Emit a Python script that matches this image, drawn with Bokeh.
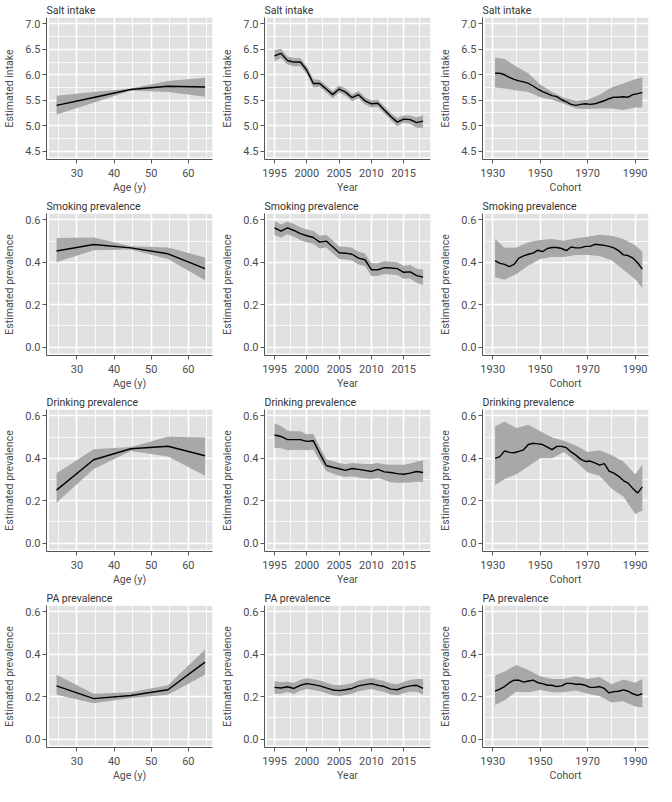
from bokeh.plotting import figure
from bokeh.layouts import gridplot
from bokeh.models import FixedTicker, BoxAnnotation, Range1d, NumeralTickFormatter
from bokeh.embed import file_html
from bokeh.resources import INLINE

# ---------------- data ----------------
age = [24.5, 34.5, 44.5, 54.5, 64.5]
years = list(range(1995, 2019))
cohort = list(range(1931, 1994, 2))
cohort_band = [1931, 1935, 1940, 1945, 1950, 1955, 1960, 1965, 1970, 1975, 1980, 1985, 1990, 1993]

# Salt intake
salt_age = [5.40, 5.555, 5.71, 5.775, 5.76]
salt_age_hi = [5.59, 5.66, 5.73, 5.88, 5.94]
salt_age_lo = [5.22, 5.45, 5.69, 5.66, 5.57]
salt_year = [6.37, 6.42, 6.28, 6.25, 6.25, 6.09, 5.83, 5.83, 5.72, 5.61, 5.72, 5.66,
             5.55, 5.61, 5.49, 5.43, 5.44, 5.31, 5.18, 5.07, 5.13, 5.12, 5.06, 5.09]
salt_year_hi = [6.48, 6.51, 6.36, 6.33, 6.33, 6.17, 5.91, 5.90, 5.79, 5.68, 5.79, 5.73,
                5.62, 5.68, 5.56, 5.50, 5.51, 5.38, 5.25, 5.15, 5.20, 5.20, 5.16, 5.21]
salt_year_lo = [6.26, 6.33, 6.20, 6.17, 6.17, 6.01, 5.75, 5.76, 5.65, 5.54, 5.65, 5.59,
                5.48, 5.54, 5.42, 5.36, 5.37, 5.24, 5.11, 4.99, 5.06, 5.04, 4.96, 4.96]
salt_cohort = [6.03, 6.03, 6.00, 5.95, 5.91, 5.88, 5.86, 5.83, 5.78, 5.72, 5.67, 5.63,
               5.59, 5.57, 5.51, 5.47, 5.42, 5.40, 5.42, 5.43, 5.42, 5.43, 5.46, 5.49,
               5.53, 5.56, 5.56, 5.57, 5.56, 5.61, 5.63, 5.65]
salt_cohort_hi = [6.34, 6.31, 6.16, 6.03, 5.81, 5.66, 5.55, 5.49, 5.51, 5.61, 5.75, 5.83, 5.91, 5.95]
salt_cohort_lo = [5.75, 5.73, 5.69, 5.66, 5.56, 5.51, 5.43, 5.34, 5.33, 5.34, 5.34, 5.31, 5.36, 5.36]

# Smoking prevalence
smoke_age = [0.453, 0.484, 0.468, 0.440, 0.370]
smoke_age_hi = [0.515, 0.517, 0.476, 0.470, 0.423]
smoke_age_lo = [0.400, 0.457, 0.460, 0.415, 0.315]
smoke_year = [0.562, 0.547, 0.562, 0.550, 0.535, 0.525, 0.517, 0.495, 0.500, 0.473, 0.445, 0.443,
              0.438, 0.420, 0.412, 0.365, 0.365, 0.375, 0.373, 0.370, 0.353, 0.355, 0.337, 0.330]
smoke_year_hi = [0.595, 0.578, 0.592, 0.580, 0.565, 0.555, 0.547, 0.525, 0.530, 0.503, 0.475, 0.473,
                 0.468, 0.450, 0.442, 0.395, 0.395, 0.405, 0.403, 0.400, 0.384, 0.387, 0.370, 0.366]
smoke_year_lo = [0.529, 0.516, 0.532, 0.520, 0.505, 0.495, 0.487, 0.465, 0.470, 0.443, 0.415, 0.413,
                 0.408, 0.390, 0.382, 0.335, 0.335, 0.345, 0.343, 0.340, 0.322, 0.323, 0.304, 0.294]
smoke_cohort = [0.408, 0.395, 0.390, 0.380, 0.390, 0.420, 0.430, 0.438, 0.443, 0.457, 0.450, 0.465,
                0.470, 0.470, 0.465, 0.455, 0.472, 0.468, 0.468, 0.475, 0.475, 0.485, 0.483, 0.480,
                0.475, 0.468, 0.455, 0.435, 0.432, 0.420, 0.398, 0.368]
smoke_cohort_hi = [0.510, 0.468, 0.470, 0.495, 0.505, 0.510, 0.502, 0.513, 0.520, 0.530, 0.525, 0.510, 0.480, 0.450]
smoke_cohort_lo = [0.330, 0.318, 0.345, 0.385, 0.415, 0.425, 0.425, 0.435, 0.435, 0.430, 0.410, 0.365, 0.320, 0.278]

# Drinking prevalence
drink_age = [0.250, 0.393, 0.445, 0.457, 0.412]
drink_age_hi = [0.330, 0.443, 0.453, 0.502, 0.498]
drink_age_lo = [0.190, 0.350, 0.435, 0.408, 0.318]
drink_year = [0.510, 0.503, 0.488, 0.488, 0.488, 0.480, 0.483, 0.423, 0.366, 0.358, 0.351, 0.343,
              0.352, 0.348, 0.343, 0.338, 0.348, 0.336, 0.333, 0.328, 0.325, 0.330, 0.338, 0.333]
drink_year_hi = [0.565, 0.552, 0.530, 0.528, 0.528, 0.513, 0.516, 0.455, 0.396, 0.387, 0.378, 0.372,
                 0.378, 0.375, 0.373, 0.373, 0.378, 0.372, 0.370, 0.370, 0.370, 0.376, 0.385, 0.390]
drink_year_lo = [0.450, 0.447, 0.438, 0.440, 0.440, 0.438, 0.441, 0.390, 0.340, 0.328, 0.318, 0.312,
                 0.315, 0.310, 0.306, 0.303, 0.308, 0.298, 0.287, 0.285, 0.285, 0.286, 0.289, 0.288]
drink_cohort = [0.400, 0.408, 0.435, 0.428, 0.426, 0.433, 0.440, 0.465, 0.471, 0.468, 0.465, 0.453,
                0.441, 0.456, 0.456, 0.450, 0.430, 0.415, 0.396, 0.385, 0.387, 0.378, 0.368, 0.375,
                0.340, 0.330, 0.315, 0.295, 0.283, 0.258, 0.236, 0.265]
drink_cohort_hi = [0.550, 0.573, 0.543, 0.558, 0.528, 0.498, 0.483, 0.460, 0.430, 0.438, 0.415, 0.385, 0.325, 0.370]
drink_cohort_lo = [0.273, 0.303, 0.325, 0.363, 0.400, 0.400, 0.430, 0.385, 0.333, 0.318, 0.258, 0.220, 0.138, 0.153]

# PA prevalence
pa_age = [0.251, 0.191, 0.206, 0.233, 0.363]
pa_age_hi = [0.304, 0.214, 0.221, 0.254, 0.423]
pa_age_lo = [0.209, 0.169, 0.194, 0.209, 0.304]
pa_year = [0.244, 0.241, 0.247, 0.239, 0.254, 0.262, 0.257, 0.251, 0.242, 0.232, 0.229, 0.233,
           0.239, 0.251, 0.257, 0.262, 0.254, 0.248, 0.236, 0.233, 0.244, 0.251, 0.254, 0.239]
pa_year_hi = [0.274, 0.268, 0.272, 0.265, 0.280, 0.287, 0.282, 0.276, 0.267, 0.257, 0.254, 0.258,
              0.264, 0.276, 0.282, 0.288, 0.280, 0.274, 0.262, 0.259, 0.271, 0.279, 0.284, 0.284]
pa_year_lo = [0.214, 0.214, 0.222, 0.213, 0.228, 0.237, 0.232, 0.226, 0.217, 0.207, 0.204, 0.208,
              0.214, 0.226, 0.232, 0.236, 0.228, 0.222, 0.210, 0.207, 0.217, 0.223, 0.224, 0.209]
pa_cohort = [0.226, 0.236, 0.248, 0.266, 0.278, 0.278, 0.269, 0.274, 0.278, 0.266, 0.262, 0.254,
             0.254, 0.248, 0.251, 0.263, 0.263, 0.259, 0.259, 0.254, 0.244, 0.244, 0.248, 0.239,
             0.218, 0.224, 0.226, 0.232, 0.226, 0.214, 0.206, 0.214]
pa_cohort_hi = [0.300, 0.319, 0.350, 0.326, 0.296, 0.284, 0.284, 0.296, 0.284, 0.293, 0.259, 0.281, 0.266, 0.284]
pa_cohort_lo = [0.161, 0.184, 0.224, 0.221, 0.232, 0.221, 0.221, 0.229, 0.214, 0.203, 0.173, 0.179, 0.154, 0.149]

# ticks / limits
age_ticks, age_minor = [30, 40, 50, 60], [25, 35, 45, 55, 65]
year_ticks, year_minor = [1995, 2000, 2005, 2010, 2015], [1997.5, 2002.5, 2007.5, 2012.5, 2017.5]
cohort_ticks, cohort_minor = [1930, 1950, 1970, 1990], [1940, 1960, 1980]
salt_ticks, salt_minor = [4.5, 5.0, 5.5, 6.0, 6.5, 7.0], [4.75, 5.25, 5.75, 6.25, 6.75]
prev_ticks, prev_minor = [0.0, 0.2, 0.4, 0.6], [0.1, 0.3, 0.5]
age_lim, year_lim, cohort_lim = (22.5, 66.5), (1993.85, 2019.15), (1926.8, 1995.6)
salt_lim, prev_lim = (4.375, 7.125), (-0.03, 0.63)

FONT = "Roboto"
PANEL = "#e1e1e1"
BAND = "#a8a8a8"
TXT = "#4d4d4d"


def panel(title, xlabel, ylabel, x, y, bx, hi, lo, xlim, ylim, xt, xmt, yt, ymt, xfmt, yfmt):
    gx = 0.016 * (xlim[1] - xlim[0])
    gy = 0.014 * (ylim[1] - ylim[0])
    p = figure(width=218, height=196, output_backend="svg", toolbar_location=None,
               x_range=Range1d(xlim[0] - gx, xlim[1]), y_range=Range1d(ylim[0] - gy, ylim[1]),
               min_border_left=40, min_border_right=6, min_border_top=16, min_border_bottom=34)
    p.background_fill_color = "white"
    p.border_fill_color = "white"
    p.outline_line_color = None
    p.add_layout(BoxAnnotation(left=xlim[0], bottom=ylim[0], fill_color=PANEL, fill_alpha=1,
                               line_color=None, level="image"))
    p.varea(x=bx, y1=lo, y2=hi, fill_color=BAND, fill_alpha=1)
    p.line(x, y, line_color="black", line_width=1.4)

    p.title.text = title
    p.title.text_font = FONT
    p.title.text_font_size = "10.5px"
    p.title.text_font_style = "normal"
    p.title.text_color = "#333333"
    p.title.standoff = 2

    p.xaxis.ticker = FixedTicker(ticks=xt, minor_ticks=xmt)
    p.yaxis.ticker = FixedTicker(ticks=yt, minor_ticks=ymt)
    p.xaxis.formatter = NumeralTickFormatter(format=xfmt)
    p.yaxis.formatter = NumeralTickFormatter(format=yfmt)
    p.xaxis.axis_label = xlabel
    p.yaxis.axis_label = ylabel
    for ax in (p.xaxis, p.yaxis):
        ax.axis_line_color = "#555555"
        ax.axis_line_width = 1
        ax.major_tick_line_color = "#555555"
        ax.major_tick_in = 0
        ax.major_tick_out = 4
        ax.minor_tick_line_color = None
        ax.major_label_text_font = FONT
        ax.major_label_text_font_size = "11px"
        ax.major_label_text_color = TXT
        ax.axis_label_text_font = FONT
        ax.axis_label_text_font_size = "10.5px"
        ax.axis_label_text_font_style = "normal"
        ax.axis_label_text_color = TXT
    p.xaxis.major_label_standoff = 5
    p.xaxis.axis_label_standoff = 1
    p.yaxis.major_label_standoff = 2
    p.yaxis.axis_label_standoff = 6
    for g in (p.xgrid, p.ygrid):
        g.grid_line_color = "white"
        g.grid_line_width = 1.6
        g.minor_grid_line_color = "white"
        g.minor_grid_line_width = 0.8
    return p


rows = [
    ("Salt intake", "Estimated intake", salt_lim, salt_ticks, salt_minor, "0.0",
     (salt_age, salt_age_hi, salt_age_lo), (salt_year, salt_year_hi, salt_year_lo),
     (salt_cohort, salt_cohort_hi, salt_cohort_lo)),
    ("Smoking prevalence", "Estimated prevalence", prev_lim, prev_ticks, prev_minor, "0.0",
     (smoke_age, smoke_age_hi, smoke_age_lo), (smoke_year, smoke_year_hi, smoke_year_lo),
     (smoke_cohort, smoke_cohort_hi, smoke_cohort_lo)),
    ("Drinking prevalence", "Estimated prevalence", prev_lim, prev_ticks, prev_minor, "0.0",
     (drink_age, drink_age_hi, drink_age_lo), (drink_year, drink_year_hi, drink_year_lo),
     (drink_cohort, drink_cohort_hi, drink_cohort_lo)),
    ("PA prevalence", "Estimated prevalence", prev_lim, prev_ticks, prev_minor, "0.0",
     (pa_age, pa_age_hi, pa_age_lo), (pa_year, pa_year_hi, pa_year_lo),
     (pa_cohort, pa_cohort_hi, pa_cohort_lo)),
]

figs = []
for title, ylab, ylim, yt, ymt, yfmt, a, yr, c in rows:
    figs.append([
        panel(title, "Age (y)", ylab, age, a[0], age, a[1], a[2], age_lim, ylim,
              age_ticks, age_minor, yt, ymt, "0", yfmt),
        panel(title, "Year", ylab, years, yr[0], years, yr[1], yr[2], year_lim, ylim,
              year_ticks, year_minor, yt, ymt, "0", yfmt),
        panel(title, "Cohort", ylab, cohort, c[0], cohort_band, c[1], c[2], cohort_lim, ylim,
              cohort_ticks, cohort_minor, yt, ymt, "0", yfmt),
    ])

grid = gridplot(figs, toolbar_location=None)
open("out.html", "w").write(file_html(grid, INLINE))
